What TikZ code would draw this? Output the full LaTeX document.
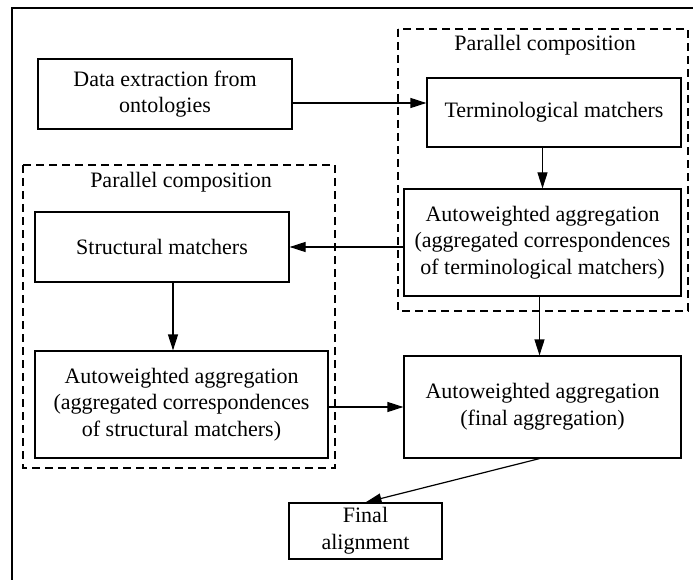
\documentclass[tikz,border=0pt]{standalone}
\usepackage{fontspec}
\setmainfont{Liberation Serif}
\usetikzlibrary{arrows.meta,calc}
\tikzset{
  box/.style={draw, line width=1.2pt, rectangle, inner sep=0pt, align=center,
    font=\fontsize{22}{26.7}\selectfont},
  grp/.style={draw, line width=1.2pt, dash pattern=on 8pt off 5pt},
  lbl/.style={inner sep=0pt, font=\fontsize{22}{26.7}\selectfont},
  arr/.style={line width=1.2pt, -{Triangle[length=16pt,width=10pt]}},
}
\begin{document}
\begin{tikzpicture}[x=1pt,y=-1pt]
\useasboundingbox (0,0) rectangle (693,580);
% outer frame (top and left only)
\draw[line width=1.4pt] (12,580) -- (12,8) -- (693,8);
% dashed groups
\draw[grp] (398,29) rectangle (688,311);
\draw[grp] (23,165) rectangle (335,468);
\node[lbl] (lblR) at (545,45) {Parallel composition};
\node[lbl] (lblL) at (181,182) {Parallel composition};
% boxes
\node[box, minimum width=254pt, minimum height=70pt] (data) at (165,94) {Data extraction from\\ontologies};
\node[box, minimum width=254pt, minimum height=69pt] (term) at (554,112.5) {Terminological matchers};
\node[box, minimum width=277pt, minimum height=107pt] (termagg) at (542.5,242.5) {Autoweighted aggregation\\(aggregated correspondences\\of terminological matchers)};
\node[box, minimum width=254pt, minimum height=70pt] (struct) at (162,247) {Structural matchers};
\node[box, minimum width=293pt, minimum height=107pt] (structagg) at (181.5,404.5) {Autoweighted aggregation\\(aggregated correspondences\\of structural matchers)};
\node[box, minimum width=277pt, minimum height=102pt] (finagg) at (542.5,407) {Autoweighted aggregation\\(final aggregation)};
\node[box, minimum width=153pt, minimum height=56pt] (final) at (365.5,531) {Final\\alignment};
% connectors
\draw[arr] ([yshift=-9pt]data.east) coordinate (a1) -- (a1 -| term.west);
\draw[arr] (termagg.north |- term.south) -- (termagg.north);
\draw[arr] (termagg.west |- struct.east) -- (struct.east);
\draw[arr] ([xshift=11pt]struct.south) coordinate (a2) -- (a2 |- structagg.north);
\draw[arr] (structagg.east |- finagg.west) -- (finagg.west);
\draw[arr] ([xshift=-3pt]termagg.south) coordinate (a3) -- (a3 |- finagg.north);
\draw[arr] ([xshift=-3pt]finagg.south) -- (final.north);
\end{tikzpicture}
\end{document}
